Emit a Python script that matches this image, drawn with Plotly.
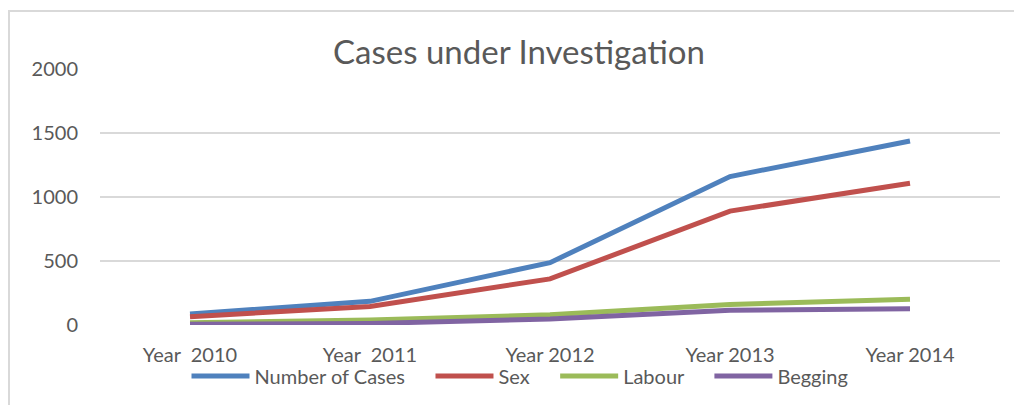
import plotly.graph_objects as go

categories = ["Year\u00a0 2010", "Year\u00a0 2011", "Year 2012", "Year 2013", "Year 2014"]
number_of_cases = [86, 185, 487, 1160, 1437]
sex = [65, 145, 360, 890, 1107]
labour = [18, 40, 80, 160, 201]
begging = [5, 12, 47, 115, 127]

pad = "\u00a0" * 4
series = [
    ("Number of Cases" + pad, number_of_cases, "#4f81bd"),
    ("Sex" + pad, sex, "#c0504d"),
    ("Labour" + pad, labour, "#9bbb59"),
    ("Begging", begging, "#8064a2"),
]

fig = go.Figure()
for name, vals, color in series:
    fig.add_trace(go.Scatter(x=categories, y=vals, name=name, mode="lines",
                             line=dict(color=color, width=5)))

L, R, T, B = 100, 14, 69, 80
W, H = 1014, 405
pw, ph = W - L - R, H - T - B

def px(x):
    return (x - L) / pw

def py(y):
    return (H - B - y) / ph

fig.update_layout(
    width=W, height=H,
    margin=dict(l=L, r=R, t=T, b=B, pad=0, autoexpand=False),
    paper_bgcolor="white", plot_bgcolor="white",
    font=dict(family="Lato, 'Open Sans', sans-serif", color="#595959", size=20),
    title=dict(text="Cases under Investigation", x=px(519), xref="paper", xanchor="center",
               y=1 - 52 / H, yref="container", yanchor="middle",
               font=dict(size=33, color="#595959")),
    xaxis=dict(type="category", range=[-0.5, 4.5], showgrid=False, showline=False,
               zeroline=False, ticks="outside", ticklen=12, tickcolor="rgba(0,0,0,0)",
               tickfont=dict(size=20), automargin=False),
    yaxis=dict(range=[0, 2000], tickvals=[0, 500, 1000, 1500, 2000], showgrid=True,
               gridcolor="#d9d9d9", gridwidth=2, zeroline=False, showline=False,
               ticks="outside", ticklen=17, tickcolor="rgba(0,0,0,0)",
               tickfont=dict(size=20), automargin=False),
    showlegend=True,
    legend=dict(orientation="h", x=px(520), xanchor="center", xref="paper",
                y=py(376), yanchor="middle", yref="paper",
                itemwidth=58, font=dict(size=20),
                traceorder="normal", bgcolor="rgba(0,0,0,0)", tracegroupgap=0,
                itemclick=False),
    shapes=[dict(type="rect", xref="paper", yref="paper",
                 x0=px(9), x1=px(W + 10), y0=py(H + 10), y1=py(11),
                 line=dict(color="#d9d9d9", width=2), fillcolor="rgba(0,0,0,0)",
                 layer="below")],
)

fig.write_html("out.html", config={"displayModeBar": False},
               post_script="document.body.style.margin='0';")
